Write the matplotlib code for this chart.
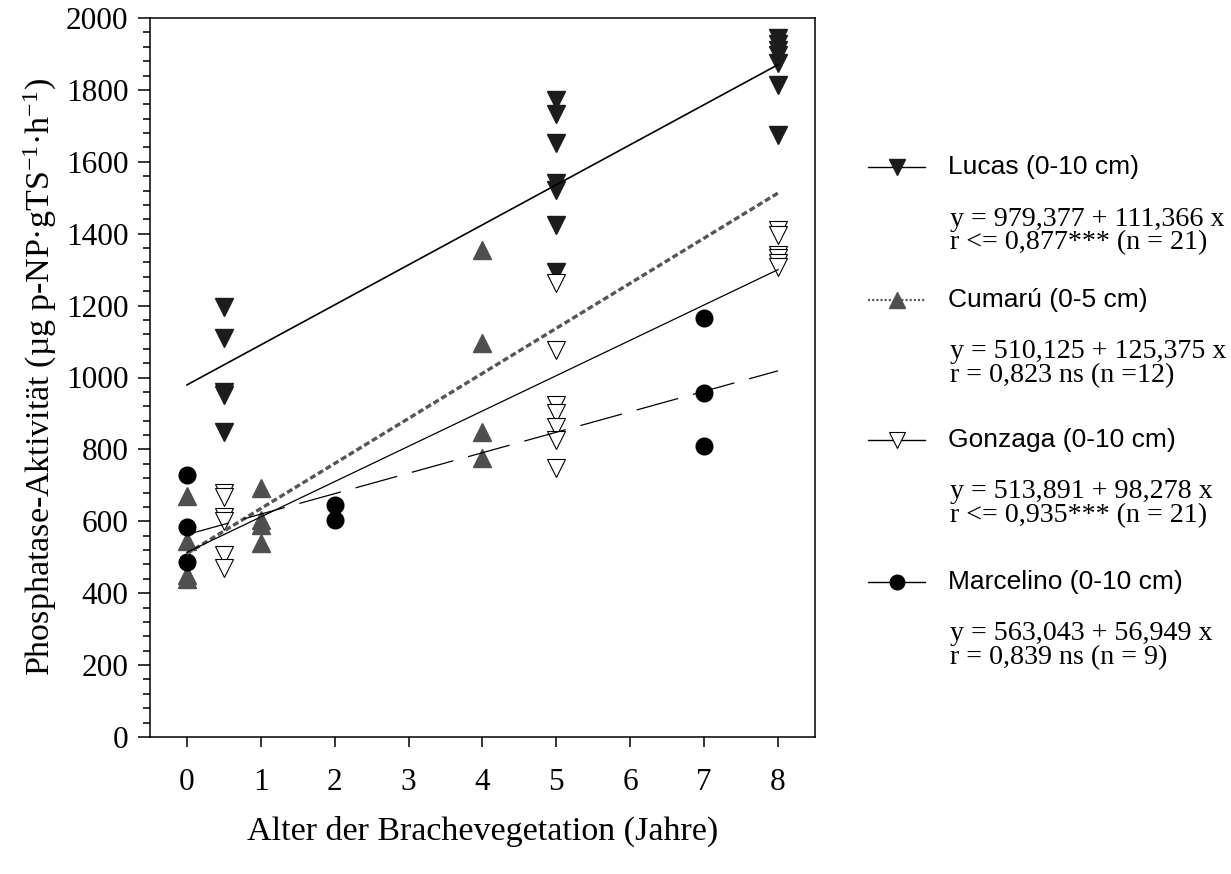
import matplotlib
matplotlib.use("Agg")
import matplotlib.pyplot as plt
from matplotlib.lines import Line2D
from matplotlib.ticker import MultipleLocator

plt.rcParams["font.family"] = ["Liberation Serif", "DejaVu Serif"]
plt.rcParams["mathtext.fontset"] = "custom"
plt.rcParams["mathtext.rm"] = "Liberation Serif"
plt.rcParams["mathtext.it"] = "Liberation Serif:italic"
plt.rcParams["lines.scale_dashes"] = False

# Fallow age (years) and phosphatase activity per site
lucas_x = [0.5] * 5 + [5] * 7 + [8] * 7
lucas_y = [1197, 1110, 960, 951, 849,
           1771, 1734, 1651, 1540, 1521, 1424, 1294,
           1943, 1929, 1911, 1897, 1874, 1813, 1674]

cumaru_x = [0] * 4 + [1] * 4 + [4] * 4
cumaru_y = [670, 546, 450, 440,
            692, 603, 590, 540,
            1354, 1095, 849, 776]

gonzaga_x = [0.5] * 6 + [5] * 7 + [8] * 6
gonzaga_y = [679, 667, 612, 600, 506, 470,
             1263, 1076, 923, 901, 862, 826, 748,
             1410, 1396, 1340, 1332, 1318, 1307]

marcelino_x = [0, 0, 0, 2, 2, 7, 7, 7]
marcelino_y = [729, 585, 488, 645, 603, 1165, 957, 810]

# Regression coefficients (intercept, slope)
lucas_fit = (979.377, 111.366)
cumaru_fit = (510.125, 125.375)
gonzaga_fit = (513.891, 98.278)
marcelino_fit = (563.043, 56.949)

series_names = ["Lucas (0-10 cm)", "Cumarú (0-5 cm)",
                "Gonzaga (0-10 cm)", "Marcelino (0-10 cm)"]
equations = [
    ["y = 979,377 + 111,366 x", "r <= 0,877*** (n = 21)"],
    ["y = 510,125 + 125,375 x", "r = 0,823 ns (n =12)"],
    ["y = 513,891 + 98,278 x", "r <= 0,935*** (n = 21)"],
    ["y = 563,043 + 56,949 x", "r = 0,839 ns (n = 9)"],
]

x_ticks = [0, 1, 2, 3, 4, 5, 6, 7, 8]
fit_range = [0, 8]

W, H = 1231, 874
fig = plt.figure(figsize=(W / 100, H / 100), dpi=100)
ax = fig.add_axes([150 / W, 1 - 737 / H, (815 - 150) / W, (737 - 18) / H])

styles = {
    "lucas": dict(marker="v", mfc="#1c1c1c", mec="#1c1c1c", ms=12.5, mew=1),
    "cumaru": dict(marker="^", mfc="#4f4f4f", mec="#4f4f4f", ms=13.5, mew=1),
    "gonzaga": dict(marker="v", mfc="white", mec="black", ms=12.5, mew=0.8),
    "marcelino": dict(marker="o", mfc="black", mec="black", ms=12, mew=1),
}

ax.plot(lucas_x, lucas_y, ls="none", zorder=2, **styles["lucas"])
ax.plot(cumaru_x, cumaru_y, ls="none", zorder=2, **styles["cumaru"])
ax.plot(gonzaga_x, gonzaga_y, ls="none", zorder=2, **styles["gonzaga"])
ax.plot(marcelino_x, marcelino_y, ls="none", zorder=2, **styles["marcelino"])

def fit_line(fit):
    a, b = fit
    return [a + b * x for x in fit_range]

ax.plot(fit_range, fit_line(lucas_fit), color="black", lw=1.2, zorder=3)
ax.plot(fit_range, fit_line(cumaru_fit), color="#555555", lw=2.4,
        dashes=(4.3, 2.2), zorder=3)
ax.plot(fit_range, fit_line(gonzaga_fit), color="black", lw=0.9, zorder=3)
ax.plot(fit_range, fit_line(marcelino_fit), color="black", lw=0.9,
        dashes=(31, 11), zorder=3)

ax.set_xlim(-0.5, 8.5)
ax.set_ylim(0, 2000)
ax.set_xticks(x_ticks)
ax.set_xticklabels([str(t) for t in x_ticks])
ax.yaxis.set_major_locator(MultipleLocator(200))
ax.yaxis.set_minor_locator(MultipleLocator(40))
ax.tick_params(axis="y", which="major", direction="out", length=8.5, width=1.1,
               labelsize=22.5, pad=7)
ax.tick_params(axis="y", which="minor", direction="out", length=5, width=1.1)
ax.tick_params(axis="x", which="major", direction="out", length=7.5, width=1.1,
               labelsize=22.5, pad=15)
for s in ax.spines.values():
    s.set_linewidth(1.1)

ax.set_xlabel("Alter der Brachevegetation (Jahre)", fontsize=24.5, labelpad=13)
ax.set_ylabel("Phosphatase-Aktivität (µg p-NP·gTS$^{-1}$·h$^{-1}$)",
              fontsize=24.5, labelpad=5)

# Legend block drawn in figure pixel coordinates
legend_rows = [167, 300, 440, 582]
legend_keys = ["lucas", "cumaru", "gonzaga", "marcelino"]
for key, name, eq, py in zip(legend_keys, series_names, equations, legend_rows):
    yf = 1 - py / H
    st = styles[key]
    if key == "cumaru":
        line = Line2D([868 / W, 925 / W], [yf, yf], transform=fig.transFigure,
                      color="#555555", lw=1.6, dashes=(1.5, 1.5))
    else:
        line = Line2D([868 / W, 925 / W], [yf, yf], transform=fig.transFigure,
                      color="black", lw=1.0)
    fig.add_artist(line)
    mk = Line2D([897 / W], [yf], transform=fig.transFigure, ls="none",
                marker=st["marker"], mfc=st["mfc"], mec=st["mec"],
                ms=st["ms"] - 1.5, mew=st["mew"])
    fig.add_artist(mk)
    fig.text(948 / W, yf, name, fontsize=19, family=["Liberation Sans", "DejaVu Sans"],
             va="center", ha="left")
    fig.text(950 / W, 1 - (py + 52) / H, eq[0], fontsize=20.2, va="center", ha="left")
    fig.text(950 / W, 1 - (py + 76) / H, eq[1], fontsize=20.2, va="center", ha="left")

fig.savefig("out.png", dpi=100)
